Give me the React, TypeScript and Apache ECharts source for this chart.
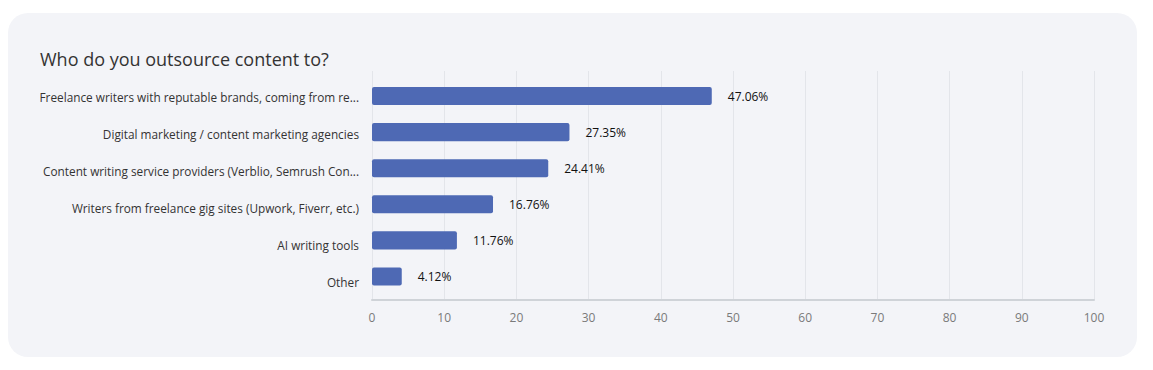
import React, { useEffect, useRef } from "react";
import * as echarts from "echarts";

const title = "Who do you outsource content to?";
const categories = [
  "Freelance writers with reputable brands, coming from re...",
  "Digital marketing / content marketing agencies",
  "Content writing service providers (Verblio, Semrush Con...",
  "Writers from freelance gig sites (Upwork, Fiverr, etc.)",
  "AI writing tools",
  "Other",
];
const values = [47.06, 27.35, 24.41, 16.76, 11.76, 4.12];
const xTicks = [0, 10, 20, 30, 40, 50, 60, 70, 80, 90, 100];

const FONT = "'Open Sans', 'Noto Sans', sans-serif";

export default function App() {
  const ref = useRef<HTMLDivElement>(null);
  useEffect(() => {
    if (!ref.current) return;
    const chart = echarts.init(ref.current, undefined, { renderer: "svg" });
    chart.setOption({
      animation: false,
      textStyle: { fontFamily: FONT },
      title: {
        text: title,
        left: 32,
        top: 37,
        padding: 0,
        textStyle: { fontFamily: FONT, fontSize: 18, fontWeight: "normal", color: "#333" },
      },
      grid: [
        { left: 364, right: 43, top: 58, bottom: 57 },
        { left: 364, right: 43, top: 65, bottom: 62.5 },
        { left: 364, right: 43, top: 65.9, bottom: 56.7 },
      ],
      xAxis: [
        {
          type: "value",
          gridIndex: 0,
          min: xTicks[0],
          max: xTicks[xTicks.length - 1],
          interval: 10,
          axisLine: { show: true, lineStyle: { color: "#cfd3d8", width: 2 } },
          axisTick: { show: false },
          splitLine: { show: true, lineStyle: { color: "#e3e5ea", width: 1 } },
          axisLabel: { color: "#7a7a7a", fontSize: 12, margin: 11, fontFamily: FONT },
        },
        { type: "value", gridIndex: 1, min: 0, max: 100, show: false, splitLine: { show: false } },
        { type: "value", gridIndex: 2, min: 0, max: 100, show: false, splitLine: { show: false } },
      ],
      yAxis: [
        { type: "category", gridIndex: 0, data: [""], show: false },
        {
          type: "category",
          gridIndex: 1,
          data: categories,
          inverse: true,
          axisLine: { show: false },
          axisTick: { show: false },
          splitLine: { show: false },
          axisLabel: { show: false },
        },
        {
          type: "category",
          gridIndex: 2,
          data: categories,
          inverse: true,
          axisLine: { show: false },
          axisTick: { show: false },
          splitLine: { show: false },
          axisLabel: { color: "#333", fontSize: 11.8, margin: 13, fontFamily: FONT },
        },
      ],
      series: [
        {
          type: "bar",
          xAxisIndex: 1,
          yAxisIndex: 1,
          data: values,
          barWidth: "50%",
          itemStyle: { color: "#4e69b4", borderRadius: 2 },
          label: {
            show: true,
            position: "right",
            distance: 16,
            color: "#111",
            fontSize: 12,
            fontFamily: FONT,
            formatter: (p: any) => p.value.toFixed(2) + "%",
          },
        },
      ],
    });
    return () => chart.dispose();
  }, []);
  return (
    <div
      style={{
        marginTop: 5,
        width: 1129,
        height: 344,
        background: "#f3f4f8",
        borderRadius: 20,
      }}
    >
      <div ref={ref} style={{ width: 1129, height: 344 }} />
    </div>
  );
}
